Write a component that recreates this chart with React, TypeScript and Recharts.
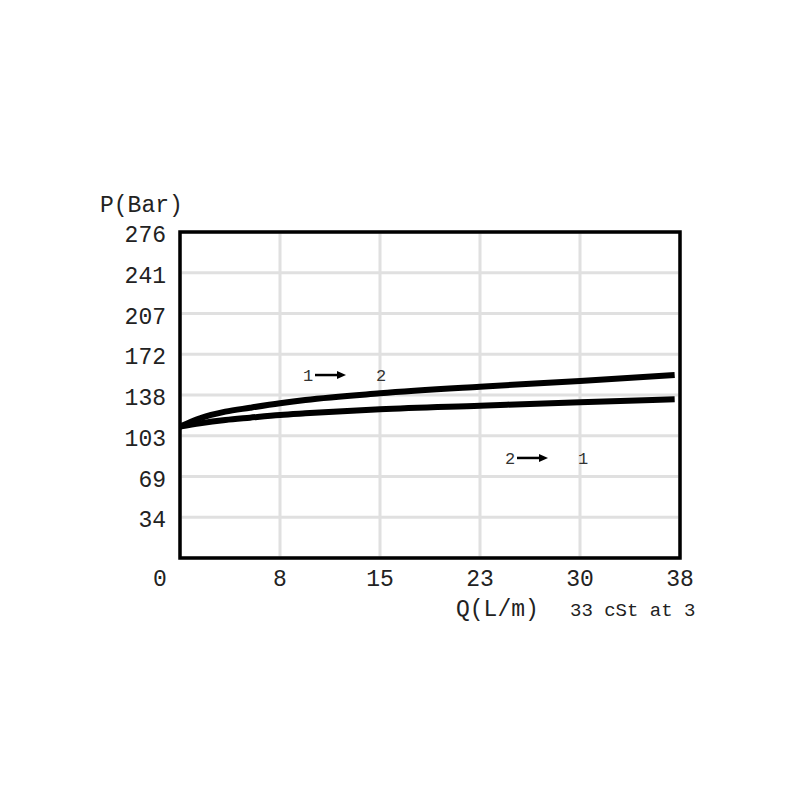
import React from "react";
import {
  LineChart,
  Line,
  XAxis,
  YAxis,
  CartesianGrid,
  ReferenceArea,
  ReferenceDot,
} from "recharts";

// flow (L/m) and pressure (bar)
const flowQ = [0, 1.5, 3.4, 5.25, 7.5, 9.4, 15, 22.5, 30, 37.1];
const pressure12 = [111.2, 118.3, 123.9, 127.2, 131.0, 133.8, 139.4, 145.0, 149.9, 154.9];
const pressure21 = [111.2, 114.0, 116.8, 118.8, 121.1, 122.5, 126.0, 129.0, 131.9, 134.4];

const xTicks = [0, 7.5, 15, 22.5, 30, 37.5];
const xTickLabels = ["0", "8", "15", "23", "30", "38"];
const yTicks = [0, 34.5, 69, 103.5, 138, 172.5, 207, 241.5, 276];
const yTickLabels = ["", "34", "69", "103", "138", "172", "207", "241", "276"];

const flowLabels = [
  { from: "1", to: "2", q: 9.225, p: 154.9 },
  { from: "2", to: "1", q: 24.375, p: 84.7 },
];

const data = flowQ.map((q, i) => ({ q, p12: pressure12[i], p21: pressure21[i] }));

const FONT = "'Liberation Mono', 'DejaVu Sans Mono', monospace";

const XTick = (props: any) => {
  const { x, y, index } = props;
  return (
    <text
      x={index === 0 ? x - 20 : x}
      y={y + 20}
      textAnchor="middle"
      fontFamily={FONT}
      fontSize={23}
      fill="#222"
    >
      {xTickLabels[index]}
    </text>
  );
};

const YTick = (props: any) => {
  const { x, y, index } = props;
  return (
    <text x={x} y={y + 10} textAnchor="end" fontFamily={FONT} fontSize={23} fill="#222">
      {yTickLabels[index]}
    </text>
  );
};

const FlowArrow = (props: any) => {
  const { cx, cy, from, to } = props;
  return (
    <g>
      <text x={cx} y={cy + 6} fontFamily={FONT} fontSize={17} fill="#333">
        {from}
      </text>
      <line x1={cx + 12} y1={cy} x2={cx + 35} y2={cy} stroke="#000" strokeWidth={2.5} />
      <polygon points={`${cx + 34},${cy - 4} ${cx + 43},${cy} ${cx + 34},${cy + 4}`} fill="#000" />
      <text x={cx + 73} y={cy + 6} fontFamily={FONT} fontSize={17} fill="#333">
        {to}
      </text>
    </g>
  );
};

export default function App() {
  return (
    <div style={{ position: "absolute", left: 0, top: 0, background: "#fff" }}>
      <LineChart
        width={800}
        height={800}
        data={data}
        margin={{ top: 232, right: 120, bottom: 212, left: 0 }}
      >
        <CartesianGrid stroke="#e0e0e0" strokeWidth={3} />
        <XAxis
          dataKey="q"
          type="number"
          domain={[0, 37.5]}
          ticks={xTicks}
          interval={0}
          height={30}
          tickLine={false}
          axisLine={false}
          tick={<XTick />}
          allowDataOverflow
          label={({ viewBox }: any) => (
            <g>
              <text x={viewBox.x + 276} y={viewBox.y + 58} fontFamily={FONT} fontSize={23} fill="#222">
                Q(L/m)
              </text>
              <text x={viewBox.x + 390} y={viewBox.y + 58} fontFamily={FONT} fontSize={19} fill="#222">
                33 cSt at 3
              </text>
            </g>
          )}
        />
        <YAxis
          type="number"
          domain={[0, 276]}
          ticks={yTicks}
          interval={0}
          width={180}
          tickLine={false}
          axisLine={false}
          tickMargin={8}
          tick={<YTick />}
          label={({ viewBox }: any) => (
            <text x={viewBox.x + 100} y={viewBox.y - 20} fontFamily={FONT} fontSize={23} fill="#222">
              P(Bar)
            </text>
          )}
        />
        <Line
          type="monotone"
          dataKey="p12"
          stroke="#000"
          strokeWidth={6}
          dot={false}
          isAnimationActive={false}
        />
        <Line
          type="monotone"
          dataKey="p21"
          stroke="#000"
          strokeWidth={6}
          dot={false}
          isAnimationActive={false}
        />
        <ReferenceArea
          x1={0}
          x2={37.5}
          y1={0}
          y2={276}
          fill="none"
          fillOpacity={0}
          stroke="#000"
          strokeWidth={3.5}
          ifOverflow="visible"
        />
        {flowLabels.map((f) => (
          <ReferenceDot
            key={f.from + f.to}
            x={f.q}
            y={f.p}
            r={0}
            ifOverflow="visible"
            shape={(props: any) => <FlowArrow {...props} from={f.from} to={f.to} />}
          />
        ))}
      </LineChart>
    </div>
  );
}
